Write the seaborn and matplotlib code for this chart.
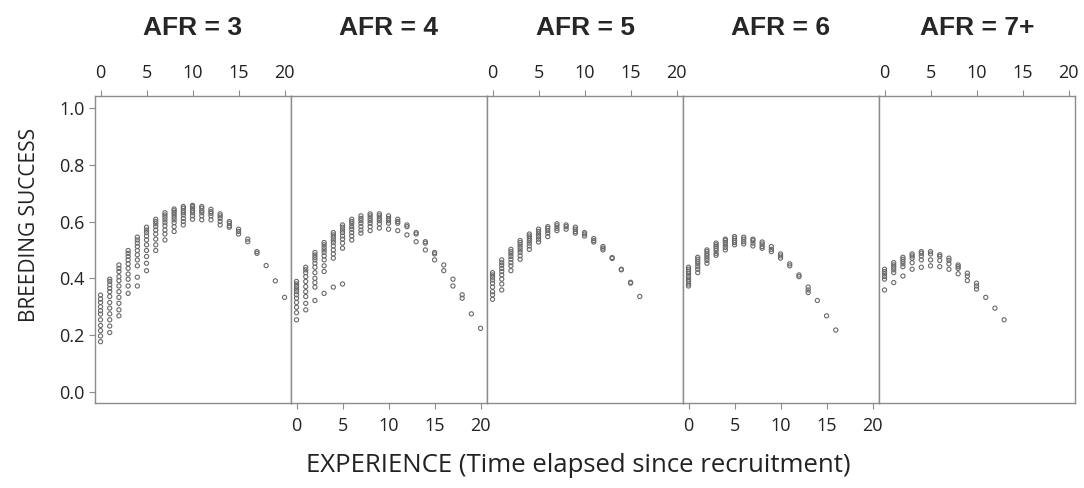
import numpy as np
import pandas as pd
import seaborn as sns
import matplotlib.pyplot as plt

# breeding success per year of experience (index = years since recruitment)
afr3 = [
    [0.341, 0.327, 0.315, 0.300, 0.286, 0.274, 0.254, 0.234, 0.216, 0.197, 0.177],
    [0.397, 0.389, 0.377, 0.365, 0.353, 0.336, 0.315, 0.295, 0.275, 0.254, 0.232, 0.209],
    [0.447, 0.435, 0.424, 0.406, 0.392, 0.373, 0.353, 0.333, 0.312, 0.289, 0.268],
    [0.498, 0.488, 0.477, 0.465, 0.451, 0.435, 0.415, 0.397, 0.373, 0.347],
    [0.545, 0.535, 0.524, 0.512, 0.498, 0.483, 0.465, 0.444, 0.404, 0.373],
    [0.580, 0.570, 0.561, 0.549, 0.535, 0.518, 0.498, 0.477, 0.453, 0.427],
    [0.608, 0.600, 0.592, 0.582, 0.570, 0.556, 0.538, 0.518, 0.498],
    [0.631, 0.623, 0.615, 0.606, 0.596, 0.585, 0.570, 0.556, 0.535],
    [0.644, 0.638, 0.631, 0.623, 0.615, 0.606, 0.596, 0.582, 0.565],
    [0.653, 0.647, 0.638, 0.631, 0.623, 0.611, 0.600, 0.588],
    [0.657, 0.653, 0.647, 0.638, 0.631, 0.620, 0.608],
    [0.653, 0.647, 0.638, 0.631, 0.620, 0.606],
    [0.643, 0.635, 0.629, 0.620, 0.606],
    [0.627, 0.620, 0.611, 0.600, 0.588],
    [0.600, 0.594, 0.585, 0.580],
    [0.573, 0.565, 0.556],
    [0.538, 0.529],
    [0.494, 0.488],
    [0.445],
    [0.391],
    [0.333],
]
afr4 = [
    [0.389, 0.380, 0.371, 0.362, 0.353, 0.342, 0.330, 0.315, 0.298, 0.279, 0.254],
    [0.439, 0.430, 0.420, 0.406, 0.389, 0.371, 0.353, 0.336, 0.312, 0.289],
    [0.491, 0.482, 0.474, 0.465, 0.453, 0.439, 0.420, 0.400, 0.385, 0.369, 0.322],
    [0.526, 0.518, 0.509, 0.500, 0.491, 0.479, 0.465, 0.444, 0.424, 0.347],
    [0.561, 0.553, 0.545, 0.535, 0.526, 0.514, 0.500, 0.486, 0.471, 0.369],
    [0.588, 0.580, 0.570, 0.561, 0.549, 0.538, 0.524, 0.506, 0.380],
    [0.608, 0.600, 0.592, 0.582, 0.573, 0.561, 0.549, 0.535],
    [0.620, 0.611, 0.603, 0.594, 0.582, 0.570, 0.559],
    [0.627, 0.620, 0.611, 0.603, 0.594, 0.582, 0.568],
    [0.627, 0.620, 0.611, 0.603, 0.592, 0.577],
    [0.620, 0.611, 0.603, 0.594, 0.573],
    [0.608, 0.600, 0.594, 0.568],
    [0.588, 0.582, 0.553],
    [0.561, 0.556, 0.529],
    [0.529, 0.524, 0.500],
    [0.491, 0.486, 0.465],
    [0.447, 0.427],
    [0.397, 0.373],
    [0.342, 0.330],
    [0.275],
    [0.224],
]
afr5 = [
    [0.420, 0.412, 0.404, 0.394, 0.383, 0.369, 0.353, 0.342, 0.326],
    [0.465, 0.455, 0.446, 0.435, 0.424, 0.412, 0.397, 0.380, 0.359],
    [0.502, 0.494, 0.486, 0.477, 0.467, 0.455, 0.444, 0.427],
    [0.533, 0.526, 0.518, 0.509, 0.500, 0.491, 0.479, 0.467],
    [0.556, 0.549, 0.541, 0.533, 0.524, 0.514, 0.502],
    [0.573, 0.565, 0.556, 0.547, 0.538, 0.528],
    [0.582, 0.576, 0.568, 0.559, 0.547],
    [0.592, 0.585, 0.576, 0.568],
    [0.588, 0.582, 0.573],
    [0.580, 0.573, 0.565, 0.559],
    [0.561, 0.556, 0.549],
    [0.540, 0.533, 0.528],
    [0.512, 0.506, 0.500],
    [0.473, 0.470],
    [0.432, 0.430],
    [0.386, 0.383],
    [0.336],
]
afr6 = [
    [0.439, 0.432, 0.424, 0.416, 0.406, 0.397, 0.389, 0.380, 0.373],
    [0.474, 0.467, 0.459, 0.451, 0.441, 0.432, 0.420],
    [0.500, 0.494, 0.486, 0.479, 0.471, 0.463, 0.453],
    [0.524, 0.518, 0.512, 0.505, 0.498, 0.488, 0.481],
    [0.538, 0.533, 0.526, 0.518, 0.509, 0.500],
    [0.547, 0.541, 0.533, 0.526, 0.518],
    [0.545, 0.538, 0.529, 0.521],
    [0.538, 0.533, 0.524, 0.514],
    [0.528, 0.521, 0.512, 0.506],
    [0.512, 0.502, 0.494],
    [0.486, 0.479, 0.471],
    [0.451, 0.444],
    [0.412, 0.406],
    [0.369, 0.359, 0.350],
    [0.322],
    [0.268],
    [0.218],
]
afr7 = [
    [0.432, 0.424, 0.416, 0.406, 0.397, 0.359],
    [0.455, 0.447, 0.439, 0.430, 0.420, 0.385],
    [0.474, 0.467, 0.459, 0.451, 0.441, 0.408],
    [0.486, 0.479, 0.471, 0.455, 0.432],
    [0.494, 0.488, 0.479, 0.465, 0.439],
    [0.494, 0.486, 0.465, 0.444],
    [0.483, 0.477, 0.463, 0.441],
    [0.471, 0.463, 0.451, 0.432],
    [0.447, 0.441, 0.435, 0.416],
    [0.418, 0.408, 0.392],
    [0.383, 0.373, 0.362],
    [0.333],
    [0.295],
    [0.254],
]

panels = ["AFR = 3", "AFR = 4", "AFR = 5", "AFR = 6", "AFR = 7+"]
series = [afr3, afr4, afr5, afr6, afr7]
xticks = [0, 5, 10, 15, 20]
yticks = [0.0, 0.2, 0.4, 0.6, 0.8, 1.0]

rows = []
for name, cols in zip(panels, series):
    for exp, ys in enumerate(cols):
        for y in ys:
            rows.append((name, exp, y))
df = pd.DataFrame(rows, columns=["AFR", "experience", "success"])

sns.set_style("white")
plt.rcParams["font.family"] = ["Open Sans", "DejaVu Sans"]

fig, axes = plt.subplots(1, 5, figsize=(10.84, 4.88), dpi=100, sharey=True)
fig.subplots_adjust(left=95 / 1084, right=1075 / 1084, bottom=85 / 488, top=392 / 488, wspace=0)

grey = "#8c8c8c"
for i, (ax, name) in enumerate(zip(axes, panels)):
    sub = df[df["AFR"] == name]
    sns.scatterplot(data=sub, x="experience", y="success", ax=ax, marker="o", s=9,
                    facecolor="none", edgecolor="#6a6a6a", linewidth=0.8, legend=False)
    ax.set_xlim(-0.6, 20.7)
    ax.set_ylim(-0.039, 1.042)
    ax.set_xlabel("")
    ax.set_ylabel("")
    ax.set_xticks(xticks)
    for sp in ax.spines.values():
        sp.set_color(grey)
        sp.set_linewidth(1.0)
    if i % 2 == 0:
        ax.xaxis.tick_top()
    else:
        ax.xaxis.tick_bottom()
    ax.tick_params(axis="x", length=4, width=0.8, color=grey, labelsize=13, pad=6,
                   labelcolor="#222222")
    ax.tick_params(axis="y", length=4 if i == 0 else 0, width=0.8, color=grey,
                   labelsize=13, labelcolor="#222222", left=(i == 0))
    ax.set_yticks(yticks)
    ax.yaxis.set_major_formatter(plt.FormatStrFormatter("%.1f"))
    pos = ax.get_position()
    fig.text((pos.x0 + pos.x1) / 2, 1 - 28 / 488, name, ha="center", va="center",
             fontsize=19, fontweight="bold", family=["Liberation Sans", "DejaVu Sans"])

fig.text(30 / 1084, 1 - 225 / 488, "BREEDING SUCCESS", rotation=90, ha="center", va="center",
         fontsize=15, color="#222222")
fig.text(578 / 1084, 1 - 466 / 488, "EXPERIENCE (Time elapsed since recruitment)",
         ha="center", va="center", fontsize=18.5, color="#222222")

fig.savefig("out.png", dpi=100)
